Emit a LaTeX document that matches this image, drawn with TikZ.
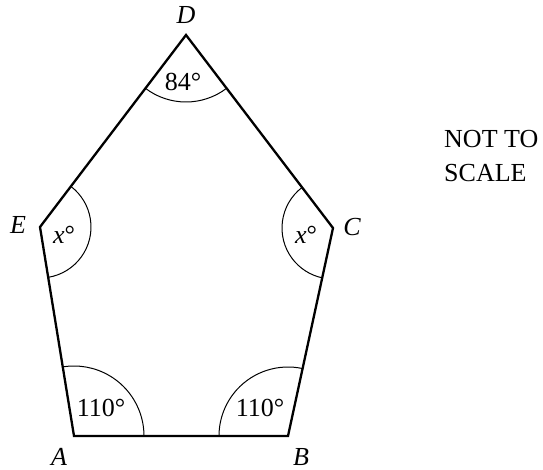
\documentclass[tikz,border=0pt]{standalone}
\usepackage{fontspec}
\setmainfont{Liberation Serif}
\usetikzlibrary{angles}
\begin{document}
\begin{tikzpicture}[x=1pt,y=1pt,
  edge/.style={line width=2.3pt,line join=miter},
  arcmark/.style={draw,line width=1pt},
  lbl/.style={inner sep=0pt,font=\fontsize{26}{31}\selectfont},
  vlbl/.style={inner sep=0pt,font=\fontsize{26}{31}\selectfont\itshape}]
\useasboundingbox (0,0) rectangle (543,470);
\coordinate (A) at (74,34);
\coordinate (B) at (288,34);
\coordinate (C) at (333,242);
\coordinate (D) at (186,435);
\coordinate (E) at (40,243);
\draw[edge] (A) -- (B) -- (C) -- (D) -- (E) -- cycle;
\pic[arcmark,angle radius=70pt] {angle=B--A--E};
\pic[arcmark,angle radius=69pt] {angle=C--B--A};
\pic[arcmark,angle radius=51pt] {angle=D--C--B};
\pic[arcmark,angle radius=67pt] {angle=E--D--C};
\pic[arcmark,angle radius=51pt] {angle=A--E--D};
\node[lbl] (aD) at (183,388) {84°};
\node[lbl] (aE) at (64,235) {\textit{x}°};
\node[lbl] (aC) at (306,235) {\textit{x}°};
\node[lbl] (aA) at (101,62) {110°};
\node[lbl] (aB) at (260,62) {110°};
\node[vlbl] (lD) at (186,455) {D};
\node[vlbl] (lE) at (18,245) {E};
\node[vlbl] (lC) at (352,243) {C};
\node[vlbl] (lA) at (59,13) {A};
\node[vlbl] (lB) at (301,13) {B};
\node[lbl,anchor=west] (n1) at (444,330.5) {NOT TO};
\node[lbl,anchor=west] (n2) at (444,296.5) {SCALE};
\end{tikzpicture}
\end{document}
